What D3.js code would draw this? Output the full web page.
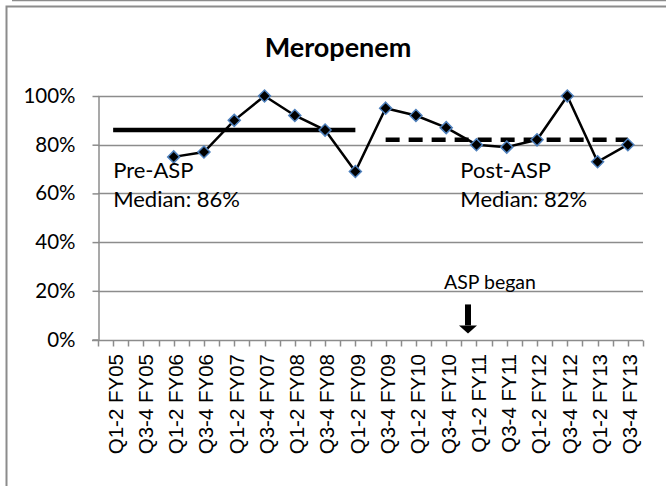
<!DOCTYPE html>
<meta charset="utf-8">
<script src="https://d3js.org/d3.v7.min.js"></script>
<style>
  body { margin: 0; background: #fff; }
  text { font-family: Lato, Carlito, Calibri, sans-serif; fill: #000; }
  .xlab text { font-family: "Liberation Sans", Arial, sans-serif; }
</style>
<div id="my_dataviz"></div>
<script>
// categories along the x axis
var categories = ["Q1-2 FY05", "Q3-4 FY05", "Q1-2 FY06", "Q3-4 FY06", "Q1-2 FY07", "Q3-4 FY07",
  "Q1-2 FY08", "Q3-4 FY08", "Q1-2 FY09", "Q3-4 FY09", "Q1-2 FY10", "Q3-4 FY10",
  "Q1-2 FY11", "Q3-4 FY11", "Q1-2 FY12", "Q3-4 FY12", "Q1-2 FY13", "Q3-4 FY13"];

// meropenem values (%), first two half-years have no data
var meropenem = [null, null, 75, 77, 90, 100, 92, 86, 69, 95, 92, 87, 80, 79, 82, 100, 73, 80];

// median lines: [start category, end category, value]
var preMedian = ["Q1-2 FY05", "Q1-2 FY09", 86];
var postMedian = ["Q3-4 FY09", "Q3-4 FY13", 82];

var yTicks = [0, 20, 40, 60, 80, 100];
var aspStart = "Q1-2 FY11";

var W = 666, H = 486;
var svg = d3.select("#my_dataviz")
  .append("svg")
    .attr("width", W)
    .attr("height", H);

// outer frame (cropped chart border)
svg.append("line").attr("x1", 12).attr("x2", W).attr("y1", 0.5).attr("y2", 0.5)
  .attr("stroke", "#8c8c8c").attr("stroke-width", 1.5);
svg.append("path").attr("d", "M6.5," + H + "V6.5H" + W)
  .attr("fill", "none").attr("stroke", "#8c8c8c").attr("stroke-width", 2);

var x = d3.scaleBand()
  .domain(categories)
  .range([98, 643]);

var y = d3.scaleLinear()
  .domain([0, 100])
  .range([339.5, 96]);

var cx = function(c) { return x(c) + x.bandwidth() / 2; };

// title
svg.append("text")
  .attr("x", 338).attr("y", 57)
  .attr("text-anchor", "middle")
  .style("font-size", "27px").style("font-weight", "bold")
  .text("Meropenem");

// gridlines
svg.append("g")
  .selectAll("line")
  .data(yTicks.filter(function(d) { return d > 0; }))
  .enter()
  .append("line")
    .attr("x1", 98).attr("x2", 643)
    .attr("y1", function(d) { return Math.round(y(d)) + 0.5; })
    .attr("y2", function(d) { return Math.round(y(d)) + 0.5; })
    .attr("stroke", "#8c8c8c").attr("stroke-width", 1.5);

// y axis
var yAxis = svg.append("g")
  .attr("transform", "translate(98.5,0)")
  .call(d3.axisLeft(y).tickValues(yTicks).tickSize(6).tickSizeOuter(0)
    .tickFormat(function(d) { return d + "%"; }));
yAxis.select(".domain").attr("stroke", "#8c8c8c").attr("stroke-width", 1.5);
yAxis.selectAll(".tick line").attr("stroke", "#8c8c8c").attr("stroke-width", 1.5);
yAxis.selectAll(".tick text").attr("x", -23).style("font-size", "20.5px")
  .style("font-family", "Lato, Carlito, Calibri, sans-serif").attr("fill", "#000");

// x axis: ticks at category edges and centres
var xTickPos = [];
categories.forEach(function(c) { xTickPos.push(x(c), cx(c)); });
xTickPos.push(x.range()[1]);
var y0 = Math.round(y(0)) + 0.5;
svg.append("line").attr("x1", 92).attr("x2", 643).attr("y1", y0).attr("y2", y0)
  .attr("stroke", "#8c8c8c").attr("stroke-width", 1.5);
svg.append("g")
  .selectAll("line")
  .data(xTickPos)
  .enter()
  .append("line")
    .attr("x1", function(d) { return Math.round(d) + 0.5; })
    .attr("x2", function(d) { return Math.round(d) + 0.5; })
    .attr("y1", y0).attr("y2", y0 + 6)
    .attr("stroke", "#8c8c8c").attr("stroke-width", 1.5);

svg.append("g")
  .attr("class", "xlab")
  .selectAll("text")
  .data(categories)
  .enter()
  .append("text")
    .attr("transform", function(d) { return "translate(" + (cx(d) + 2) + ",354) rotate(-90)"; })
    .attr("text-anchor", "end")
    .attr("dy", "0.36em")
    .style("font-size", "20.5px")
    .text(function(d) { return d; });

// median lines
svg.append("line")
  .attr("x1", cx(preMedian[0])).attr("x2", cx(preMedian[1]))
  .attr("y1", y(preMedian[2])).attr("y2", y(preMedian[2]))
  .attr("stroke", "#000").attr("stroke-width", 4.5);
svg.append("line")
  .attr("x1", cx(postMedian[0])).attr("x2", cx(postMedian[1]))
  .attr("y1", y(postMedian[2])).attr("y2", y(postMedian[2]))
  .attr("stroke", "#000").attr("stroke-width", 4.5)
  .attr("stroke-dasharray", "14,9");

// series line
var pts = categories.map(function(c, i) { return {c: c, v: meropenem[i]}; })
  .filter(function(d) { return d.v != null; });
svg.append("path")
  .datum(pts)
  .attr("fill", "none")
  .attr("stroke", "#000")
  .attr("stroke-width", 2.5)
  .attr("d", d3.line()
    .x(function(d) { return cx(d.c); })
    .y(function(d) { return y(d.v); }));

// diamond markers
svg.append("g")
  .selectAll("path")
  .data(pts)
  .enter()
  .append("path")
    .attr("transform", function(d) { return "translate(" + cx(d.c) + "," + y(d.v) + ")"; })
    .attr("d", "M0,-6L6,0L0,6L-6,0Z")
    .attr("fill", "#000")
    .attr("stroke", "#4f81bd")
    .attr("stroke-width", 1.5);

// annotations
function label(xp, yp, lines) {
  var t = svg.append("text").attr("x", xp).attr("y", yp).style("font-size", "22px");
  lines.forEach(function(s, i) {
    t.append("tspan").attr("x", xp).attr("dy", i ? 29 : 0).text(s);
  });
}
label(cx(preMedian[0]), 178, ["Pre-ASP", "Median: " + preMedian[2] + "%"]);
label(x("Q1-2 FY11") - 1, 178, ["Post-ASP", "Median: " + postMedian[2] + "%"]);

var ax = x(aspStart) + x.bandwidth() * 0.22;
svg.append("text")
  .attr("x", ax + 22).attr("y", 289)
  .attr("text-anchor", "middle")
  .style("font-size", "19.5px")
  .text("ASP began");
svg.append("rect")
  .attr("x", ax - 3).attr("y", y(14.4))
  .attr("width", 6).attr("height", y(5.8) - y(14.4))
  .attr("fill", "#000");
svg.append("path")
  .attr("d", "M" + (ax - 9) + "," + y(5.8) + "L" + (ax + 9) + "," + y(5.8) + "L" + ax + "," + y(2.5) + "Z")
  .attr("fill", "#000");
</script>
